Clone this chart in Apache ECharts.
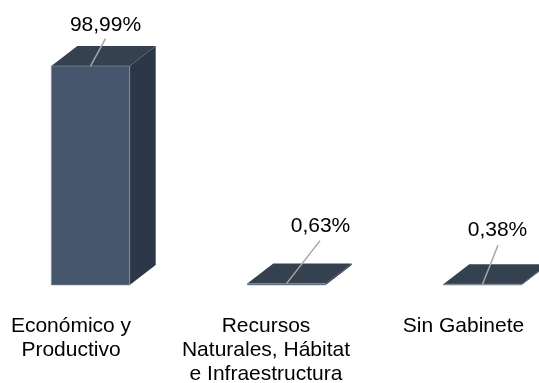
<!DOCTYPE html>
<html>
<head>
<meta charset="utf-8">
<style>
html, body { margin: 0; padding: 0; background: #fff; }
#main { width: 539px; height: 383px; }
</style>
<script src="https://cdn.jsdelivr.net/npm/echarts@6/dist/echarts.min.js"></script>
</head>
<body>
<div id="main"></div>
<script>
var categories = ['Económico y\nProductivo', 'Recursos\nNaturales, Hábitat\ne Infraestructura', 'Sin Gabinete'];
var shares = [98.99, 0.63, 0.38];
var shareLabels = ['98,99%', '0,63%', '0,38%'];

// where the text and leader lines sit relative to each column
var labelDx = [15, 34, 15];
var labelDy = [-41, -57, -54];
var leaderEnd = [[15, -27.5], [33.5, -43], [15.5, -39]];
var nameDx = [-19.5, -20.5, -19];

var depthX = 26;
var depthY = 20;
var nameY = 314;
var font = 'Liberation Sans, Arial, sans-serif';

function renderColumn(params, api) {
    var i = api.value(0);
    var top = api.coord([i, api.value(1)]);
    var base = api.coord([i, 0]);
    var w = api.size([1, 0])[0] * 0.4;
    var x0 = top[0] - w / 2;
    var x1 = top[0] + w / 2;
    var yt = top[1];
    var yb = base[1];
    return {
        type: 'group',
        children: [
            { type: 'polygon', shape: { points: [[x1, yt], [x1 + depthX, yt - depthY], [x1 + depthX, yb - depthY], [x1, yb]] }, style: { fill: '#2c3847' } },
            { type: 'polygon', shape: { points: [[x0, yt], [x0 + depthX, yt - depthY], [x1 + depthX, yt - depthY], [x1, yt]] }, style: { fill: '#36414f' } },
            { type: 'rect', shape: { x: x0, y: yt, width: w, height: yb - yt }, style: { fill: '#46566c', stroke: '#8d97a6', lineWidth: 0.6 } },
            { type: 'line', shape: { x1: top[0], y1: yt, x2: top[0] + leaderEnd[i][0], y2: yt + leaderEnd[i][1] }, style: { stroke: '#a6a6a6', lineWidth: 1.5 } },
            { type: 'text', style: { text: shareLabels[i], x: top[0] + labelDx[i], y: yt + labelDy[i], align: 'center', verticalAlign: 'middle', font: '21px ' + font, fill: '#000' } },
            { type: 'text', style: { text: categories[i], x: top[0] + nameDx[i], y: nameY, align: 'center', verticalAlign: 'top', font: '21px ' + font, lineHeight: 24, fill: '#000' } }
        ]
    };
}

var myChart = echarts.init(document.getElementById('main'), null, { renderer: 'canvas' });
myChart.setOption({
    animation: false,
    grid: { left: -7.5, width: 588, top: 63.8, height: 221.2, outerBoundsMode: 'none' },
    xAxis: { type: 'category', data: categories, show: false },
    yAxis: { type: 'value', min: 0, max: 100, show: false },
    series: [{
        type: 'custom',
        renderItem: renderColumn,
        clip: false,
        encode: { x: 0, y: 1 },
        data: shares.map(function (v, i) { return [i, v]; })
    }]
});
</script>
</body>
</html>
